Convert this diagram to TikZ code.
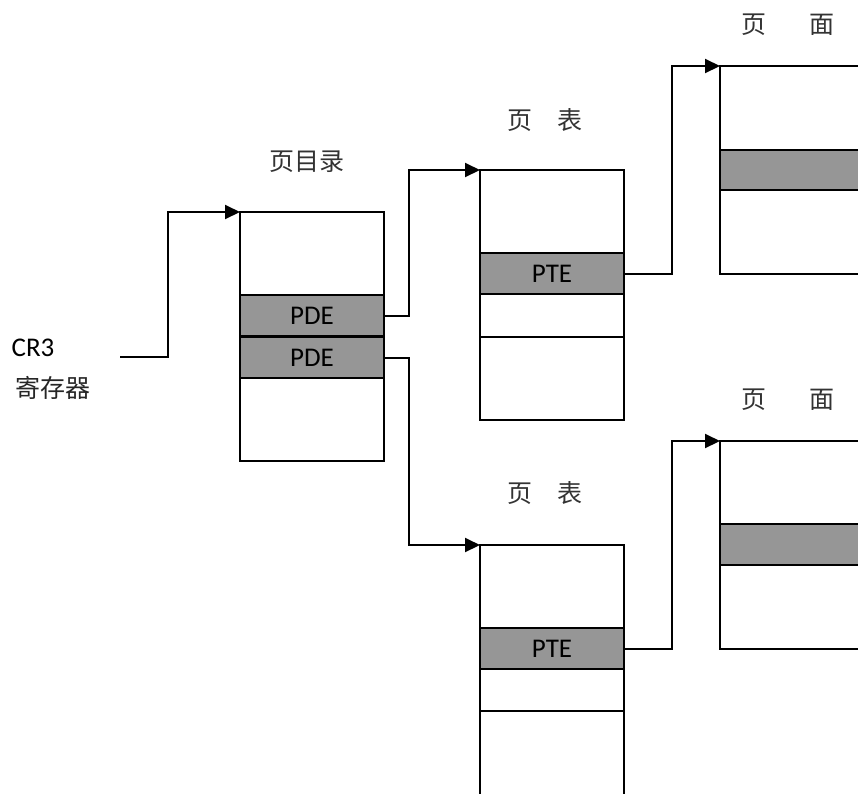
\documentclass[tikz,border=0pt]{standalone}
\usepackage{fontspec}
\setmainfont{Carlito}
\newfontfamily\cjk{Noto Sans CJK SC}
\usetikzlibrary{arrows.meta}
\definecolor{bandgray}{HTML}{969696}
\begin{document}
\begin{tikzpicture}[x=1pt,y=-1pt,
  box/.style={draw,line width=2pt,rectangle,anchor=north west,inner sep=0pt,outer sep=0pt,minimum width=#1},
  box/.default=144pt,
  band/.style={draw,line width=2pt,fill=bandgray,rectangle,anchor=north west,inner sep=0pt,outer sep=0pt,minimum width=#1,minimum height=41pt,font=\fontsize{27}{30}\selectfont},
  band/.default=144pt,
  conn/.style={line width=2pt,-{Triangle[length=15pt,width=14pt]}},
  lab/.style={font=\fontsize{25}{30}\selectfont\cjk,text=black!80,inner sep=0pt},
  eng/.style={font=\fontsize{27}{30}\selectfont,inner sep=0pt}]
\useasboundingbox (0,0) rectangle (858,793);
\clip (0,0) rectangle (858,793);
\fill[white] (0,0) rectangle (858,793);
% page directory
\node[box,minimum height=249pt] (pd) at (240,212) {};
\node[band] (pde1) at (240,295) {PDE};
\node[band] (pde2) at (240,337) {PDE};
% page table 1
\node[box,minimum height=250pt] (pt1) at (480,170) {};
\node[band] (pte1) at (480,253) {PTE};
\draw[line width=2pt] (480,337) -- (624,337);
% page table 2
\node[box,minimum height=300pt] (pt2) at (480,545) {};
\node[band] (pte2) at (480,628) {PTE};
\draw[line width=2pt] (480,711) -- (624,711);
% pages
\node[box=160pt,minimum height=208pt] (pg1) at (720,66) {};
\node[band=160pt,minimum height=40pt] (pg1b) at (720,150) {};
\node[box=160pt,minimum height=208pt] (pg2) at (720,441) {};
\node[band=160pt,minimum height=41pt] (pg2b) at (720,524) {};
% labels
\node[eng] (cr3) at (33,348) {CR3};
\node[lab,text=black!85] (reg) at (53,388) {寄存器};
\node[lab] (pdl) at (307,162) {页目录};
\node[lab] (pt1l) at (545,120) {页\hspace{1em}表};
\node[lab] (pt2l) at (545,493) {页\hspace{1em}表};
\node[lab] (pg1l) at (788,25) {页\hspace{1.7em}面};
\node[lab] (pg2l) at (788,400) {页\hspace{1.7em}面};
% connectors
\coordinate (cr3end) at (120,357);
\draw[conn] (cr3end) -- ++(48,0) |- (pd.north west);
\draw[conn] (pde1.east) -- ++(25,0) |- (pt1.north west);
\draw[conn] (pde2.east) -- ++(25,0) |- (pt2.north west);
\draw[conn] (pte1.east) -- ++(48,0) |- (pg1.north west);
\draw[conn] (pte2.east) -- ++(48,0) |- (pg2.north west);
\end{tikzpicture}
\end{document}
